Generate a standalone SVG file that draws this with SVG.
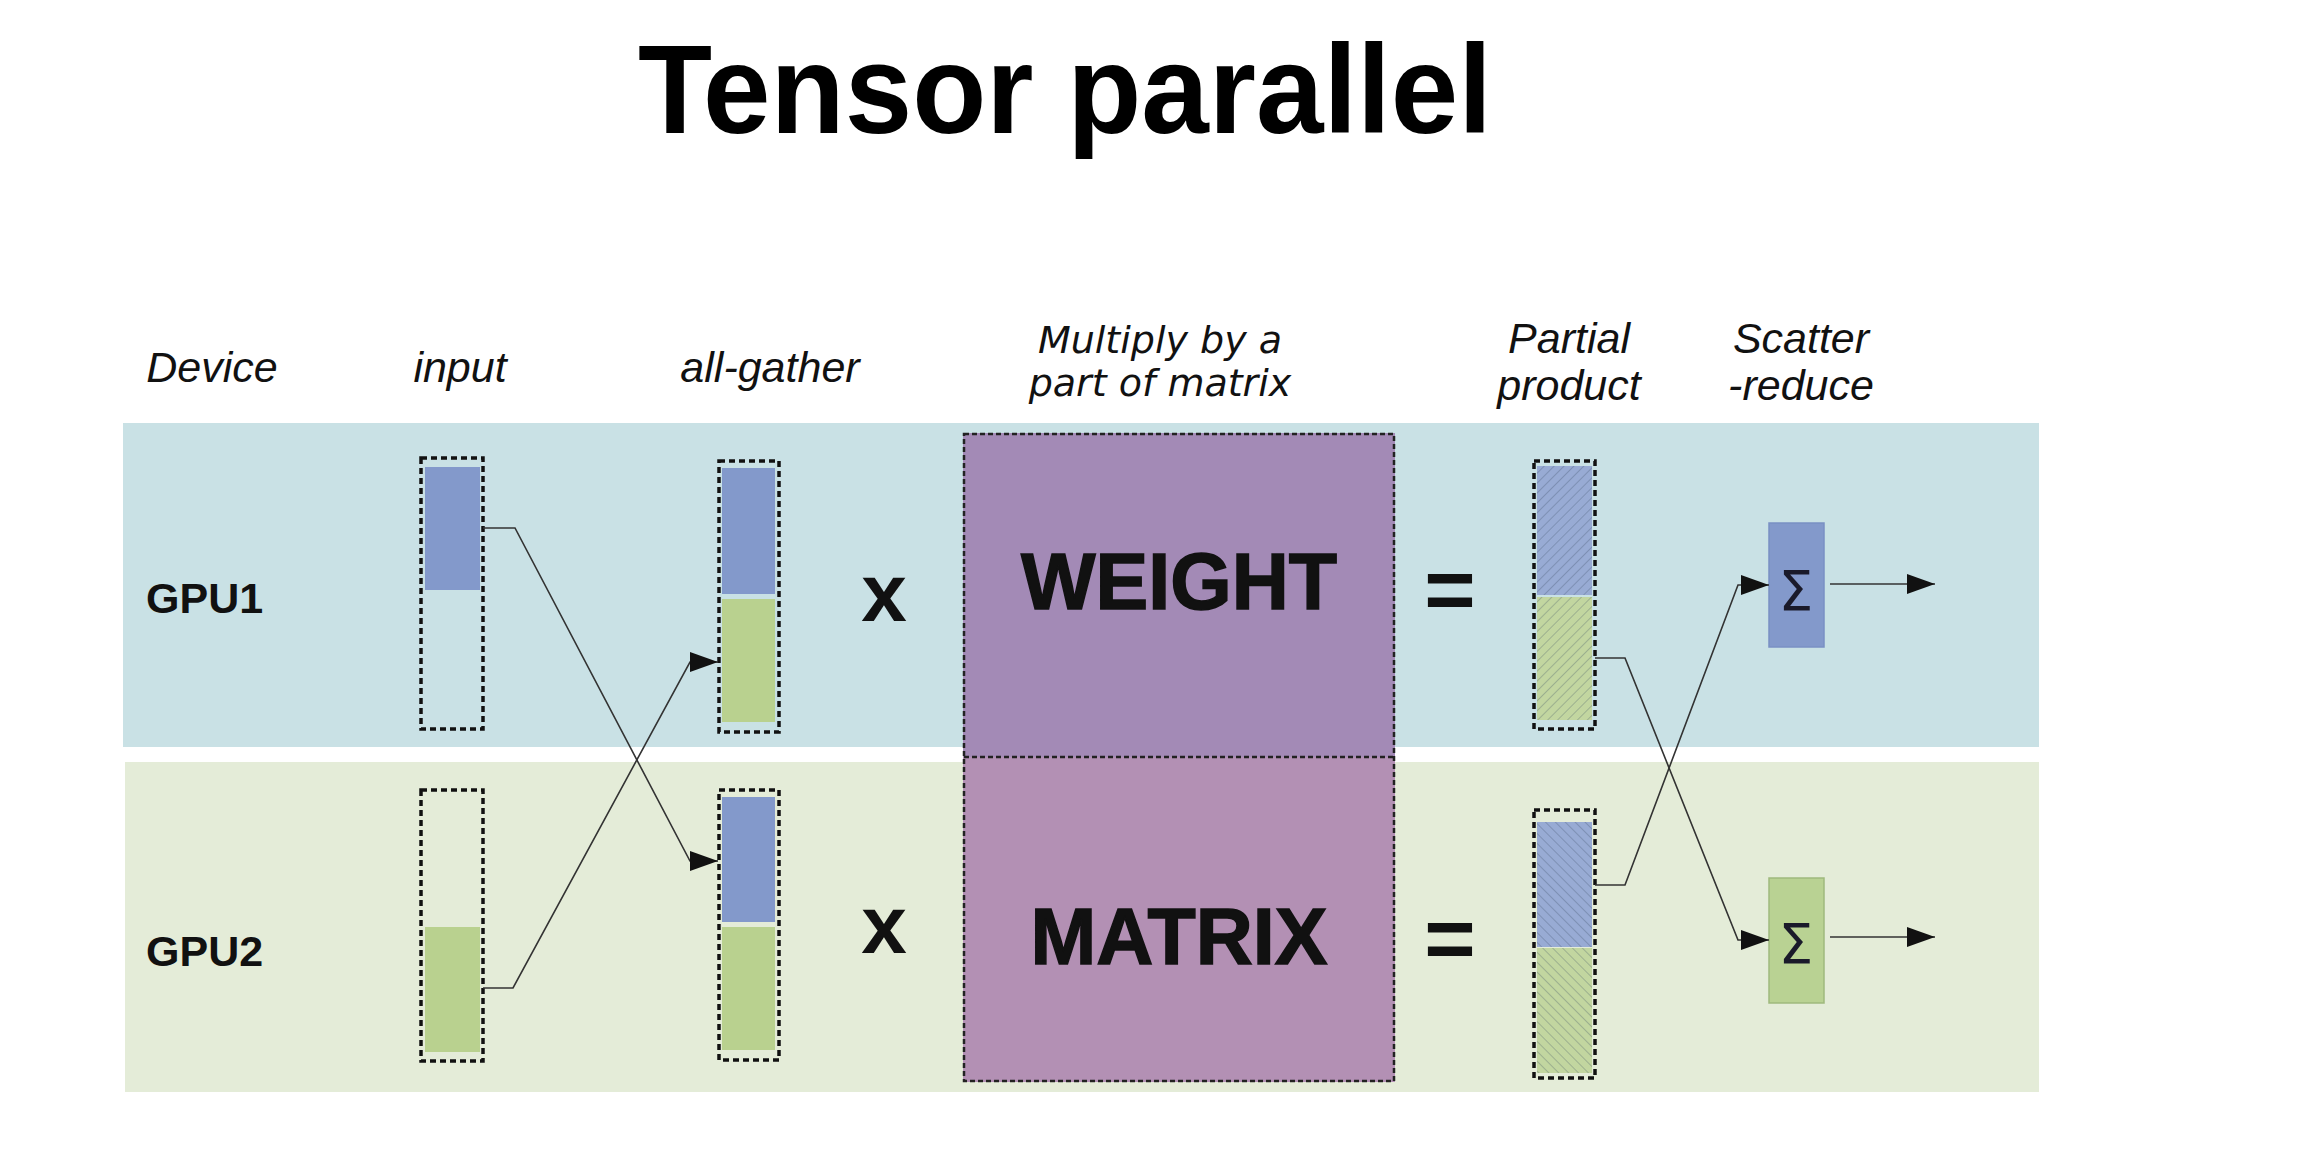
<svg xmlns="http://www.w3.org/2000/svg" width="2318" height="1172" viewBox="0 0 2318 1172">
<style>
.lbl{font-family:"Liberation Sans",Arial,sans-serif;font-style:italic;font-size:43px;fill:#111;text-anchor:middle}
.lblv{font-family:"DejaVu Sans",Verdana,sans-serif;font-style:italic;font-size:38px;fill:#111;text-anchor:middle}
.gpu{font-family:"Liberation Sans",Arial,sans-serif;font-weight:bold;font-size:43px;fill:#111}
.op{font-family:"Liberation Sans",Arial,sans-serif;font-weight:bold;fill:#111;text-anchor:middle}
.big{font-family:"Liberation Sans",Arial,sans-serif;font-weight:bold;font-size:79px;fill:#111;text-anchor:middle;stroke:#111;stroke-width:1.5}
.sig{font-family:"DejaVu Sans",sans-serif;font-size:55px;fill:#1a1a2a;text-anchor:middle}
.dash{fill:none;stroke:#111;stroke-width:3.5;stroke-dasharray:6 4}
.dashp{fill:none;stroke:#222;stroke-width:2.5;stroke-dasharray:5 3}
.blue{fill:#8399CB}
.green{fill:#B9D18F}
.conn{fill:none;stroke:#333;stroke-width:1.6}
</style>
<defs>
<marker id="arr" markerWidth="28" markerHeight="20" refX="28" refY="10" orient="auto" markerUnits="userSpaceOnUse">
<path d="M0,0 L28,10 L0,20 Z" fill="#111"/>
</marker>
<pattern id="hatchA" width="7" height="7" patternUnits="userSpaceOnUse" patternTransform="rotate(45)">
<line x1="0" y1="0" x2="0" y2="7" stroke="#3a4a60" stroke-opacity="0.28" stroke-width="2"/>
</pattern>
<pattern id="hatchB" width="7" height="7" patternUnits="userSpaceOnUse" patternTransform="rotate(-45)">
<line x1="0" y1="0" x2="0" y2="7" stroke="#3a4a60" stroke-opacity="0.28" stroke-width="2"/>
</pattern>
</defs>
<rect x="0" y="0" width="2318" height="1172" fill="#ffffff"/>

<text x="638" y="133" font-family="Liberation Sans,Arial,sans-serif" font-weight="bold" font-size="126" fill="#000" textLength="854" lengthAdjust="spacingAndGlyphs">Tensor parallel</text>

<g id="panel-gpu1"><rect x="123" y="423" width="1916" height="324" fill="#C9E1E5"/></g>
<g id="panel-gpu2"><rect x="125" y="762" width="1914" height="330" fill="#E4ECD8"/></g>

<g id="headers">
<text class="lbl" x="212" y="382">Device</text>
<text class="lbl" x="460" y="382">input</text>
<text class="lbl" x="770" y="382">all-gather</text>
<text class="lblv" x="1160" y="353">Multiply by a</text>
<text class="lblv" x="1160" y="396">part of matrix</text>
<text class="lbl" x="1569" y="353">Partial</text>
<text class="lbl" x="1569" y="400">product</text>
<text class="lbl" x="1801" y="353">Scatter</text>
<text class="lbl" x="1801" y="400">-reduce</text>
</g>

<g id="gpu1-label"><text class="gpu" x="146" y="613">GPU1</text></g>
<g id="gpu2-label"><text class="gpu" x="146" y="966">GPU2</text></g>

<g id="input-gpu1">
<rect class="blue" x="425" y="467" width="55" height="123"/>
<rect class="dash" x="421" y="458" width="62" height="271"/>
</g>
<g id="input-gpu2">
<rect class="green" x="425" y="927" width="55" height="125"/>
<rect class="dash" x="421" y="790" width="62" height="271"/>
</g>

<g id="gather-gpu1">
<rect class="blue" x="722" y="468" width="53" height="126"/>
<rect class="green" x="722" y="599" width="53" height="123"/>
<rect class="dash" x="719" y="461" width="60" height="271"/>
</g>
<g id="gather-gpu2">
<rect class="blue" x="722" y="797" width="53" height="125"/>
<rect class="green" x="722" y="927" width="53" height="123"/>
<rect class="dash" x="719" y="790" width="60" height="270"/>
</g>

<g id="times-gpu1"><text class="op" x="884" y="621" font-size="82">x</text></g>
<g id="times-gpu2"><text class="op" x="884" y="953" font-size="82">x</text></g>

<g id="weight-matrix">
<rect x="963" y="433" width="432" height="324" fill="#A38AB6"/>
<rect x="963" y="757" width="432" height="325" fill="#B390B4"/>
<rect class="dashp" x="964" y="434" width="430" height="647"/>
<line class="dashp" x1="964" y1="757" x2="1394" y2="757"/>
<text class="big" x="1179" y="609">WEIGHT</text>
<text class="big" x="1179" y="964">MATRIX</text>
</g>

<g id="eq-gpu1"><text class="op" x="1450" y="619" font-size="88">=</text></g>
<g id="eq-gpu2"><text class="op" x="1450" y="968" font-size="88">=</text></g>

<g id="partial-gpu1">
<rect x="1537" y="466" width="55" height="129" fill="#98ABD4"/>
<rect x="1537" y="466" width="55" height="129" fill="url(#hatchA)"/>
<rect x="1537" y="597" width="55" height="123" fill="#C2D6A0"/>
<rect x="1537" y="597" width="55" height="123" fill="url(#hatchA)"/>
<rect class="dash" x="1534" y="461" width="61" height="268"/>
</g>
<g id="partial-gpu2">
<rect x="1537" y="822" width="55" height="125" fill="#98ABD4"/>
<rect x="1537" y="822" width="55" height="125" fill="url(#hatchB)"/>
<rect x="1537" y="948" width="55" height="125" fill="#C2D6A0"/>
<rect x="1537" y="948" width="55" height="125" fill="url(#hatchB)"/>
<rect class="dash" x="1534" y="810" width="61" height="268"/>
</g>

<g id="sum-gpu1">
<rect x="1769" y="523" width="55" height="124" fill="#8399CB" stroke="#7A90C4" stroke-width="1.5"/>
<text class="sig" x="1796" y="610">Σ</text>
</g>
<g id="sum-gpu2">
<rect x="1769" y="878" width="55" height="125" fill="#B9D293" stroke="#9FB97D" stroke-width="1.5"/>
<text class="sig" x="1796" y="963">Σ</text>
</g>

<g id="connectors">
<path class="conn" d="M483,528 H515 L690,861 H718" marker-end="url(#arr)"/>
<path class="conn" d="M483,988 H513 L690,662 H718" marker-end="url(#arr)"/>
<path class="conn" d="M1595,658 H1625 L1738,940 H1769" marker-end="url(#arr)"/>
<path class="conn" d="M1595,885 H1625 L1738,585 H1769" marker-end="url(#arr)"/>
<path class="conn" d="M1830,584 H1935" marker-end="url(#arr)"/>
<path class="conn" d="M1830,937 H1935" marker-end="url(#arr)"/>
</g>
</svg>
